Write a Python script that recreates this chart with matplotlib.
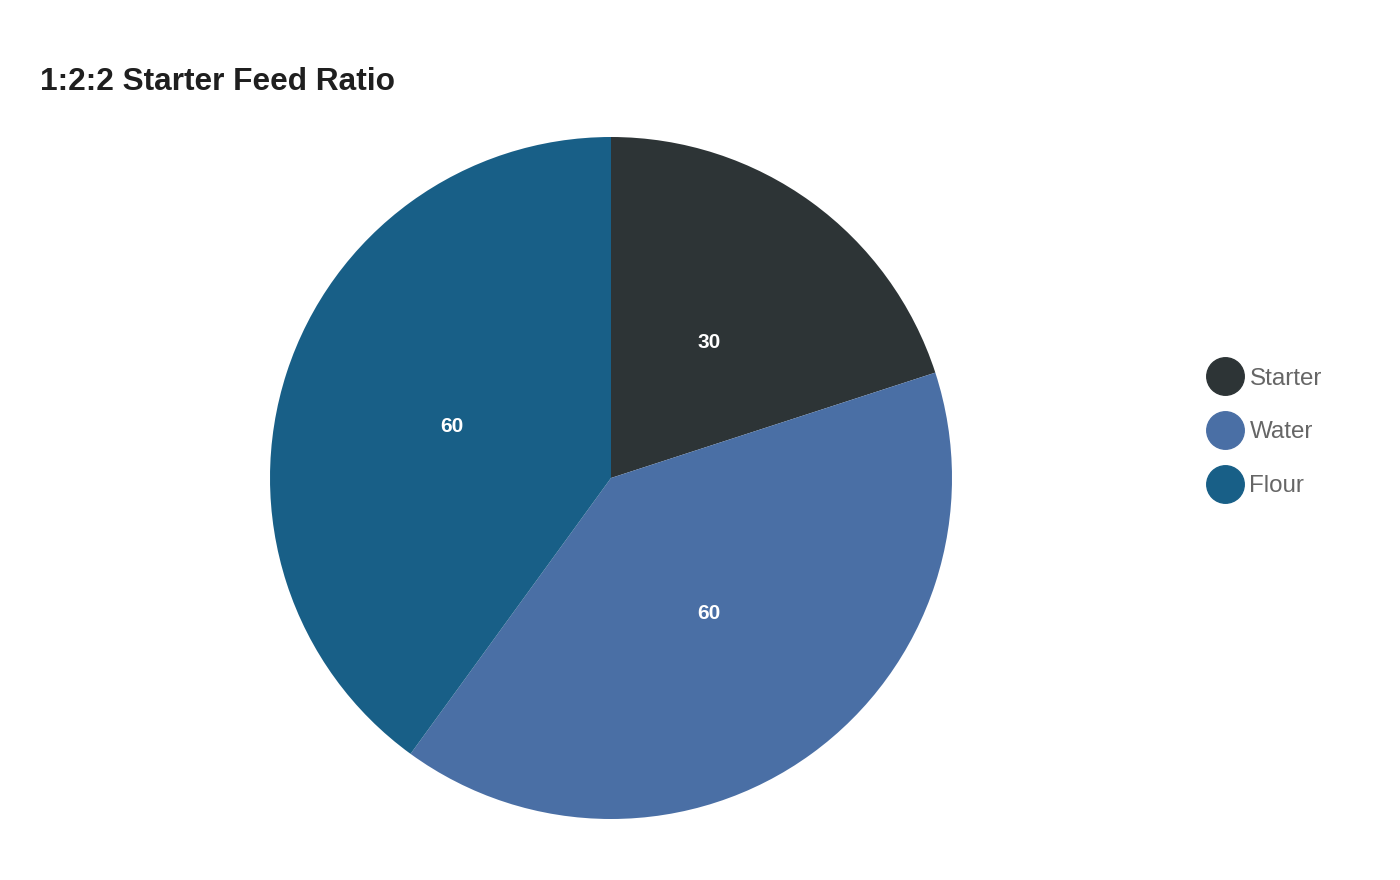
import matplotlib
matplotlib.use("Agg")
import matplotlib.pyplot as plt
from matplotlib.lines import Line2D

categories = ["Starter", "Water", "Flour"]
values = [30, 60, 60]
colors = ["#2d3436", "#4a6fa5", "#185f87"]

plt.rcParams["font.family"] = ["Liberation Sans", "DejaVu Sans"]

fig = plt.figure(figsize=(14, 8.8), dpi=100)
ax = fig.add_axes([(611 - 341) / 1400, 1 - 819 / 880, 682 / 1400, 682 / 880])

wedges, texts = ax.pie(
    values,
    colors=colors,
    startangle=90,
    counterclock=False,
    labels=[str(v) for v in values],
    labeldistance=0.49,
    radius=1.0,
    wedgeprops=dict(linewidth=0),
    textprops=dict(color="white", fontsize=15, fontweight="bold", ha="center", va="center"),
)
ax.set_xlim(-1, 1)
ax.set_ylim(-1, 1)
ax.set_aspect("equal")
ax.axis("off")

fig.text(40 / 1400, 1 - 82 / 880, "1:2:2 Starter Feed Ratio",
         fontsize=22.8, fontweight="bold", color="#1f1f1f", ha="left", va="center")

handles = [Line2D([], [], marker="o", linestyle="none", markersize=27,
                  markerfacecolor=c, markeredgecolor=c) for c in colors]
leg = fig.legend(handles, categories, loc="center left",
                 bbox_to_anchor=(1189 / 1400, 1 - 432.5 / 880),
                 frameon=False, fontsize=17.4, labelspacing=1.32,
                 handletextpad=0.0, handlelength=2.0, borderpad=0)
for t in leg.get_texts():
    t.set_color("#666666")

fig.savefig("out.png", dpi=100)
